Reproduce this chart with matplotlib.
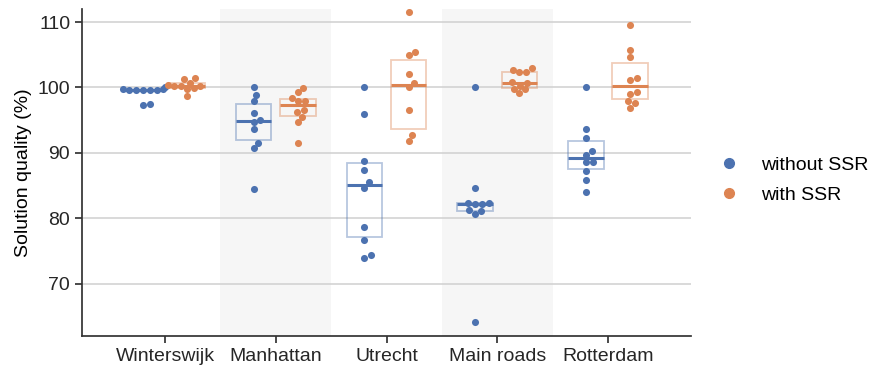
import numpy as np
import matplotlib
matplotlib.use('Agg')
import matplotlib.pyplot as plt
from matplotlib.lines import Line2D

plt.rcParams['font.family'] = ['Liberation Sans', 'DejaVu Sans']
plt.rcParams['font.size'] = 14

datasets = ['Winterswijk', 'Manhattan', 'Utrecht', 'Main roads', 'Rotterdam']
series = ['without SSR', 'with SSR']
colors = ['#4C72B0', '#DD8452']

# solution quality (%) per run
without_ssr = [
    [99.8, 99.7, 99.55, 99.55, 99.55, 99.65, 99.65, 100.05, 97.5, 97.35],
    [100.0, 98.9, 97.9, 96.1, 95.1, 94.7, 93.6, 91.5, 90.7, 84.4],
    [100.0, 95.9, 88.7, 87.4, 85.5, 84.7, 78.6, 76.7, 74.4, 74.0],
    [100.0, 84.7, 82.4, 82.3, 82.2, 82.2, 81.2, 81.1, 80.7, 64.1],
    [100.0, 93.7, 92.3, 90.25, 89.7, 88.6, 88.6, 87.2, 85.9, 84.0],
]
with_ssr = [
    [100.75, 100.45, 101.4, 101.35, 100.25, 99.85, 99.8, 98.7, 100.3, 100.25],
    [99.95, 99.3, 98.4, 98.0, 98.0, 96.5, 96.2, 95.5, 94.7, 91.5],
    # last run is below the visible range (only seen through the box)
    [111.5, 105.5, 105.0, 102.0, 100.75, 100.05, 96.5, 92.7, 91.8, 55.0],
    [103.05, 102.4, 102.35, 102.6, 100.7, 100.3, 100.8, 99.7, 99.8, 99.2],
    [109.6, 105.7, 104.6, 101.4, 101.1, 99.3, 99.0, 97.9, 97.55, 96.9],
]

ylim = (62, 112)
xlim = (-0.75, 4.75)


def swarm(values, center, xscale, yscale, d, maxw):
    # simple beeswarm: place each point as close to the center as possible
    order = np.argsort(values)
    placed = []
    xs = np.zeros(len(values))
    for i in order:
        py = values[i] * yscale
        cands = [0.0]
        for (qx, qy) in placed:
            dy = abs(py - qy)
            if dy < d:
                dx = np.sqrt(d ** 2 - dy ** 2)
                cands += [qx + dx, qx - dx]
        cands = sorted(cands, key=abs)
        for c in cands:
            ok = all((c - qx) ** 2 + (py - qy) ** 2 >= d ** 2 - 1e-6 for qx, qy in placed)
            if ok:
                break
        placed.append((c, py))
        xs[i] = center + np.clip(c / xscale, -maxw, maxw)
    return xs


fig = plt.figure(figsize=(8.7, 3.67), dpi=100)
ax = fig.add_axes([0.0943, 0.0845, 0.7, 0.891])

# pixels per data unit (for the swarm layout)
bbox = ax.get_position()
xscale = bbox.width * 870 / (xlim[1] - xlim[0])
yscale = bbox.height * 367 / (ylim[1] - ylim[0])

for k in [1, 3]:
    ax.axvspan(k - 0.5, k + 0.5, color='#f6f6f6', zorder=0, lw=0)

ax.grid(axis='y', color='#d0d0d0', lw=1.1, zorder=1)
ax.set_axisbelow(True)

offsets = [-0.2, 0.2]
for s, (vals, col, off) in enumerate(zip([without_ssr, with_ssr], colors, offsets)):
    pos = np.arange(len(datasets)) + off
    ax.boxplot(vals, positions=pos, widths=0.32, whis=0, showfliers=False,
               showcaps=False, patch_artist=True, manage_ticks=False,
               boxprops=dict(facecolor='none', edgecolor=matplotlib.colors.to_rgba(col, 0.4), lw=1.3),
               medianprops=dict(color=col, lw=2.2, solid_capstyle='butt'),
               whiskerprops=dict(visible=False), zorder=2)
    for g, v in enumerate(vals):
        v = np.asarray(v)
        xs = swarm(v, g + off, xscale, yscale, 6.8, 0.2)
        ax.scatter(xs, v, s=26, color=col, lw=0, zorder=3)

ax.set_xlim(*xlim)
ax.set_ylim(*ylim)
ax.set_yticks([70, 80, 90, 100, 110])
ax.set_xticks(range(len(datasets)))
ax.set_xticklabels(datasets)
ax.set_ylabel('Solution quality (%)')

for sp in ['top', 'right']:
    ax.spines[sp].set_visible(False)
for sp in ['left', 'bottom']:
    ax.spines[sp].set_color('#333333')
    ax.spines[sp].set_linewidth(1.25)
ax.tick_params(colors='#333333', labelcolor='#262626', width=1.25, length=5)

handles = [Line2D([], [], ls='', marker='o', markersize=7, color=c) for c in colors]
fig.legend(handles, series, loc='center left', bbox_to_anchor=(0.807, 0.51),
           frameon=False, handlelength=1.0, handletextpad=1.15, labelspacing=0.65)

fig.savefig('out.png', dpi=100)
